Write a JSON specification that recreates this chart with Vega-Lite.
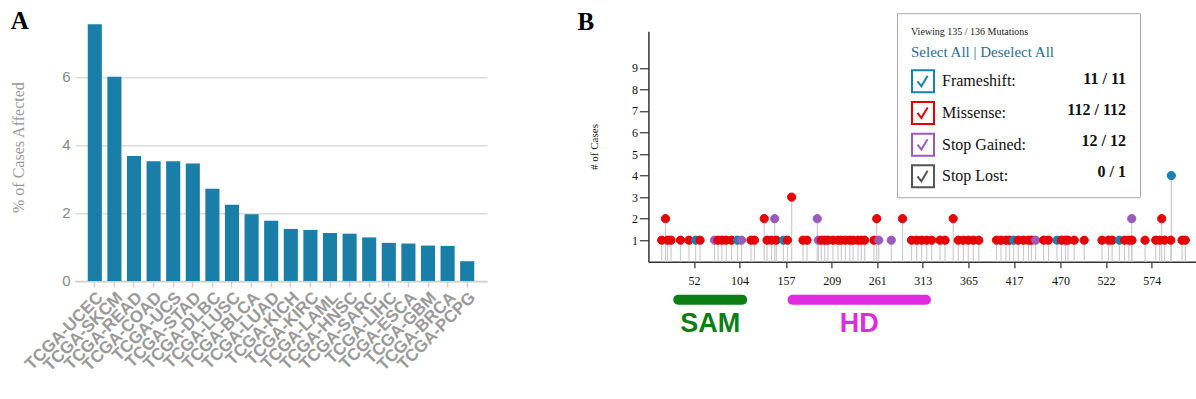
{
  "$schema": "https://vega.github.io/schema/vega-lite/v6.json",
  "background": "white",
  "padding": {"left": 10, "top": 9.25, "right": 0, "bottom": 0},
  "bounds": "flush",
  "spacing": 161.4,
  "resolve": {"legend": {"stroke": "independent", "shape": "independent", "fill": "independent", "color": "independent"}},
  "config": {"view": {"stroke": null}, "font": "Liberation Sans"},
  "datasets": {
    "cancer": [
      {"project": "TCGA-UCEC", "pct": 7.55},
      {"project": "TCGA-SKCM", "pct": 6.0},
      {"project": "TCGA-READ", "pct": 3.67},
      {"project": "TCGA-COAD", "pct": 3.52},
      {"project": "TCGA-UCS", "pct": 3.52},
      {"project": "TCGA-STAD", "pct": 3.45},
      {"project": "TCGA-DLBC", "pct": 2.71},
      {"project": "TCGA-LUSC", "pct": 2.24},
      {"project": "TCGA-BLCA", "pct": 1.96},
      {"project": "TCGA-LUAD", "pct": 1.77},
      {"project": "TCGA-KICH", "pct": 1.53},
      {"project": "TCGA-KIRC", "pct": 1.5},
      {"project": "TCGA-LAML", "pct": 1.41},
      {"project": "TCGA-HNSC", "pct": 1.39},
      {"project": "TCGA-SARC", "pct": 1.28},
      {"project": "TCGA-LIHC", "pct": 1.12},
      {"project": "TCGA-ESCA", "pct": 1.1},
      {"project": "TCGA-GBM", "pct": 1.04},
      {"project": "TCGA-BRCA", "pct": 1.03},
      {"project": "TCGA-PCPG", "pct": 0.58}
    ],
    "muts": [
      {"pos": 15.2, "cases": 1, "type": "Missense"},
      {"pos": 19.5, "cases": 2, "type": "Missense"},
      {"pos": 21.8, "cases": 1, "type": "Missense"},
      {"pos": 25.8, "cases": 1, "type": "Missense"},
      {"pos": 36.6, "cases": 1, "type": "Missense"},
      {"pos": 46.3, "cases": 1, "type": "Missense"},
      {"pos": 53.9, "cases": 1, "type": "Frameshift"},
      {"pos": 58.9, "cases": 1, "type": "Missense"},
      {"pos": 75.4, "cases": 1, "type": "Stop Gained"},
      {"pos": 79.4, "cases": 1, "type": "Missense"},
      {"pos": 83.9, "cases": 1, "type": "Missense"},
      {"pos": 88.8, "cases": 1, "type": "Missense"},
      {"pos": 94.8, "cases": 1, "type": "Missense"},
      {"pos": 101.6, "cases": 1, "type": "Frameshift"},
      {"pos": 106.2, "cases": 1, "type": "Stop Gained"},
      {"pos": 117.0, "cases": 1, "type": "Missense"},
      {"pos": 121.0, "cases": 1, "type": "Missense"},
      {"pos": 132.1, "cases": 2, "type": "Missense"},
      {"pos": 135.3, "cases": 1, "type": "Missense"},
      {"pos": 140.4, "cases": 1, "type": "Missense"},
      {"pos": 144.0, "cases": 2, "type": "Stop Gained"},
      {"pos": 145.9, "cases": 1, "type": "Missense"},
      {"pos": 153.9, "cases": 1, "type": "Frameshift"},
      {"pos": 158.6, "cases": 1, "type": "Missense"},
      {"pos": 163.4, "cases": 3, "type": "Missense"},
      {"pos": 176.3, "cases": 1, "type": "Missense"},
      {"pos": 180.9, "cases": 1, "type": "Missense"},
      {"pos": 192.6, "cases": 2, "type": "Stop Gained"},
      {"pos": 193.8, "cases": 1, "type": "Stop Gained"},
      {"pos": 197.2, "cases": 1, "type": "Missense"},
      {"pos": 201.1, "cases": 1, "type": "Missense"},
      {"pos": 204.8, "cases": 1, "type": "Missense"},
      {"pos": 210.5, "cases": 1, "type": "Missense"},
      {"pos": 216.2, "cases": 1, "type": "Missense"},
      {"pos": 220.0, "cases": 1, "type": "Missense"},
      {"pos": 224.6, "cases": 1, "type": "Missense"},
      {"pos": 229.6, "cases": 1, "type": "Missense"},
      {"pos": 233.4, "cases": 1, "type": "Missense"},
      {"pos": 239.0, "cases": 1, "type": "Missense"},
      {"pos": 242.8, "cases": 1, "type": "Missense"},
      {"pos": 246.7, "cases": 1, "type": "Missense"},
      {"pos": 257.3, "cases": 1, "type": "Missense"},
      {"pos": 260.4, "cases": 2, "type": "Missense"},
      {"pos": 262.7, "cases": 1, "type": "Stop Gained"},
      {"pos": 277.0, "cases": 1, "type": "Stop Gained"},
      {"pos": 289.8, "cases": 2, "type": "Missense"},
      {"pos": 300.1, "cases": 1, "type": "Missense"},
      {"pos": 306.0, "cases": 1, "type": "Missense"},
      {"pos": 311.5, "cases": 1, "type": "Missense"},
      {"pos": 317.4, "cases": 1, "type": "Missense"},
      {"pos": 323.1, "cases": 1, "type": "Missense"},
      {"pos": 332.6, "cases": 1, "type": "Missense"},
      {"pos": 338.3, "cases": 1, "type": "Missense"},
      {"pos": 347.6, "cases": 2, "type": "Missense"},
      {"pos": 353.4, "cases": 1, "type": "Missense"},
      {"pos": 359.1, "cases": 1, "type": "Missense"},
      {"pos": 364.8, "cases": 1, "type": "Missense"},
      {"pos": 370.6, "cases": 1, "type": "Missense"},
      {"pos": 376.8, "cases": 1, "type": "Missense"},
      {"pos": 397.0, "cases": 1, "type": "Missense"},
      {"pos": 402.1, "cases": 1, "type": "Missense"},
      {"pos": 407.8, "cases": 1, "type": "Missense"},
      {"pos": 411.8, "cases": 1, "type": "Missense"},
      {"pos": 416.6, "cases": 1, "type": "Frameshift"},
      {"pos": 421.8, "cases": 1, "type": "Missense"},
      {"pos": 427.8, "cases": 1, "type": "Missense"},
      {"pos": 433.5, "cases": 1, "type": "Missense"},
      {"pos": 436.9, "cases": 1, "type": "Missense"},
      {"pos": 441.7, "cases": 1, "type": "Stop Gained"},
      {"pos": 450.8, "cases": 1, "type": "Missense"},
      {"pos": 456.3, "cases": 1, "type": "Missense"},
      {"pos": 466.0, "cases": 1, "type": "Frameshift"},
      {"pos": 471.1, "cases": 1, "type": "Missense"},
      {"pos": 475.7, "cases": 1, "type": "Missense"},
      {"pos": 478.6, "cases": 1, "type": "Missense"},
      {"pos": 485.6, "cases": 1, "type": "Missense"},
      {"pos": 497.0, "cases": 1, "type": "Missense"},
      {"pos": 517.3, "cases": 1, "type": "Missense"},
      {"pos": 524.7, "cases": 1, "type": "Missense"},
      {"pos": 528.9, "cases": 1, "type": "Missense"},
      {"pos": 537.1, "cases": 1, "type": "Frameshift"},
      {"pos": 543.0, "cases": 1, "type": "Missense"},
      {"pos": 547.9, "cases": 1, "type": "Missense"},
      {"pos": 551.2, "cases": 2, "type": "Stop Gained"},
      {"pos": 551.5, "cases": 1, "type": "Missense"},
      {"pos": 566.4, "cases": 1, "type": "Missense"},
      {"pos": 578.6, "cases": 1, "type": "Missense"},
      {"pos": 583.1, "cases": 1, "type": "Missense"},
      {"pos": 585.4, "cases": 2, "type": "Missense"},
      {"pos": 588.8, "cases": 1, "type": "Missense"},
      {"pos": 596.4, "cases": 4, "type": "Frameshift"},
      {"pos": 595.8, "cases": 1, "type": "Missense"},
      {"pos": 608.6, "cases": 1, "type": "Missense"},
      {"pos": 612.3, "cases": 1, "type": "Missense"}
    ],
    "types": [
      {"type": "Frameshift", "tally": "11 / 11"},
      {"type": "Missense", "tally": "112 / 112"},
      {"type": "Stop Gained", "tally": "12 / 12"},
      {"type": "Stop Lost", "tally": "0 / 1"}
    ],
    "domains": [
      {"domain": "SAM", "start": 34, "end": 107},
      {"domain": "HD", "start": 164.5, "end": 316.5}
    ]
  },
  "hconcat": [
    {
      "width": 412,
      "height": 267.7,
      "title": {"text": "A", "anchor": "start", "frame": "bounds", "font": "Liberation Serif", "fontSize": 25, "fontWeight": "bold", "color": "#000000", "offset": -41, "baseline": "alphabetic"},
      "data": {"name": "cancer"},
      "mark": {"type": "bar", "color": "#1a7fa8"},
      "encoding": {
        "x": {
          "field": "project", "type": "nominal", "sort": null,
          "scale": {"paddingInner": 0.28, "paddingOuter": 0.65},
          "axis": {"title": null, "labelAngle": -45, "labelFont": "Liberation Sans", "labelFontSize": 17, "labelFontWeight": "bold", "labelColor": "#9a9a9a", "domainColor": "#cfcfcf", "domainWidth": 1.5, "tickColor": "#cfcfcf", "tickSize": 6, "tickWidth": 1.5, "labelPadding": 2}
        },
        "y": {
          "field": "pct", "type": "quantitative",
          "scale": {"domain": [0, 7.87], "nice": false},
          "axis": {"title": "% of Cases Affected", "values": [0, 2, 4, 6], "tickCount": 20, "format": "d", "domain": false, "ticks": false, "grid": true, "gridColor": "#dcdcdc", "gridWidth": 1.5, "labelFont": "Liberation Sans", "labelFontSize": 15, "labelColor": "#888888", "labelPadding": 5, "titleFont": "Liberation Serif", "titleFontSize": 16, "titleFontWeight": "normal", "titleColor": "#999999", "titlePadding": 35}
        }
      }
    },
    {
      "bounds": "flush",
      "spacing": 27.5,
      "resolve": {"legend": {"stroke": "independent", "shape": "independent", "fill": "independent", "color": "independent"}},
      "vconcat": [
        {
          "width": 548.9,
          "height": 248.5,
          "title": {"text": "B", "anchor": "start", "frame": "bounds", "font": "Liberation Serif", "fontSize": 25, "fontWeight": "bold", "color": "#000000", "offset": -42, "baseline": "alphabetic", "dx": -11},
          "layer": [
            {
              "data": {"name": "muts"},
              "mark": {"type": "rule", "color": "#cccccc", "strokeWidth": 1.2},
              "encoding": {
                "x": {
                  "field": "pos", "type": "quantitative",
                  "scale": {"domain": [0, 626], "nice": false, "zero": false},
                  "axis": {"title": null, "values": [52, 104, 157, 209, 261, 313, 365, 417, 470, 522, 574], "tickCount": 30, "format": "d", "grid": false, "labelOverlap": false, "domainColor": "#333333", "domainWidth": 1.5, "tickColor": "#333333", "tickWidth": 1.2, "tickSize": 6, "labelFont": "Liberation Serif", "labelFontSize": 12, "labelColor": "#111111", "labelPadding": 8}
                },
                "y": {
                  "field": "cases", "type": "quantitative",
                  "scale": {"domain": [0, 10.7], "nice": false, "range": [248.5, 18]},
                  "axis": {"title": "# of Cases", "values": [1, 2, 3, 4, 5, 6, 7, 8, 9], "tickCount": 30, "format": "d", "grid": false, "labelOverlap": false, "domainColor": "#333333", "domainWidth": 1.5, "tickColor": "#333333", "tickWidth": 1.2, "tickSize": 9, "labelFont": "Liberation Serif", "labelFontSize": 12, "labelColor": "#111111", "labelPadding": 2, "titleFont": "Liberation Serif", "titleFontSize": 11, "titleFontWeight": "normal", "titleColor": "#111111", "titlePadding": 32}
                },
                "y2": {"datum": 0}
              }
            },
            {
              "data": {"name": "muts"},
              "mark": {"type": "point", "filled": true, "size": 68, "strokeWidth": 1, "opacity": 1},
              "encoding": {
                "x": {"field": "pos", "type": "quantitative"},
                "y": {"field": "cases", "type": "quantitative"},
                "fill": {
                  "field": "type", "type": "nominal",
                  "scale": {"domain": ["Missense", "Frameshift", "Stop Gained", "Stop Lost"], "range": ["#e60000", "#1880b2", "#9b5bbd", "#555555"]},
                  "legend": null
                },
                "stroke": {
                  "field": "type", "type": "nominal",
                  "scale": {"domain": ["Frameshift", "Missense", "Stop Gained", "Stop Lost"], "range": ["#1880b2", "#e60000", "#9b5bbd", "#555555"]},
                  "legend": {"orient": "none", "legendX": 262.6, "legendY": 32, "zindex": 2, "title": "Select All | Deselect All", "titleFont": "Liberation Serif", "titleFontSize": 15, "titleFontWeight": "normal", "titleColor": "#2b6d94", "titlePadding": 9, "symbolType": "M-1,-1H1V1H-1Z M-0.5,0L-0.15,0.45L0.42,-0.5", "symbolSize": 484, "symbolStrokeWidth": 2, "symbolFillColor": "transparent", "rowPadding": 1.7, "labelFont": "Liberation Serif", "labelFontSize": 16, "labelColor": "#111111", "labelOffset": 7, "labelExpr": "datum.label + ':'"}
                }
              }
            },
            {
              "data": {"name": "types"},
              "mark": {"type": "point", "opacity": 0},
              "encoding": {
                "shape": {
                  "field": "tally", "type": "nominal",
                  "sort": ["11 / 11", "112 / 112", "12 / 12", "0 / 1"],
                  "scale": {"range": ["circle", "circle", "circle", "circle"]},
                  "legend": {"orient": "none", "legendX": 248.6, "legendY": 0, "zindex": 1, "title": "Viewing 135 / 136 Mutations", "titleFont": "Liberation Serif", "titleFontSize": 10, "titleFontWeight": "normal", "titleColor": "#222222", "titlePadding": 30, "padding": 14, "strokeColor": "#a8a8a8", "symbolSize": 484, "symbolOpacity": 0, "rowPadding": 8, "labelFont": "Liberation Serif", "labelFontSize": 16, "labelFontWeight": "bold", "labelColor": "#111111", "labelAlign": "right", "labelOffset": 191, "labelLimit": 300}
                }
              }
            }
          ]
        },
        {
          "width": 548.9,
          "height": 20,
          "data": {"name": "domains"},
          "layer": [
            {
              "mark": {"type": "rule", "strokeWidth": 10, "strokeCap": "round"},
              "encoding": {
                "x": {"field": "start", "type": "quantitative", "scale": {"domain": [0, 626], "nice": false, "zero": false}, "axis": null},
                "x2": {"field": "end"},
                "color": {"field": "domain", "type": "nominal", "scale": {"domain": ["SAM", "HD"], "range": ["#0b7f14", "#e02ae0"]}, "legend": null}
              }
            },
            {
              "transform": [{"fold": ["start", "end"], "as": ["edge", "pos"]}],
              "mark": {"type": "text", "font": "Liberation Sans", "fontSize": 27, "fontWeight": "bold", "dy": 24, "baseline": "middle"},
              "encoding": {
                "x": {"field": "pos", "type": "quantitative", "aggregate": "mean", "axis": null},
                "text": {"field": "domain", "type": "nominal"},
                "color": {"field": "domain", "type": "nominal", "legend": null}
              }
            }
          ]
        }
      ]
    }
  ]
}
